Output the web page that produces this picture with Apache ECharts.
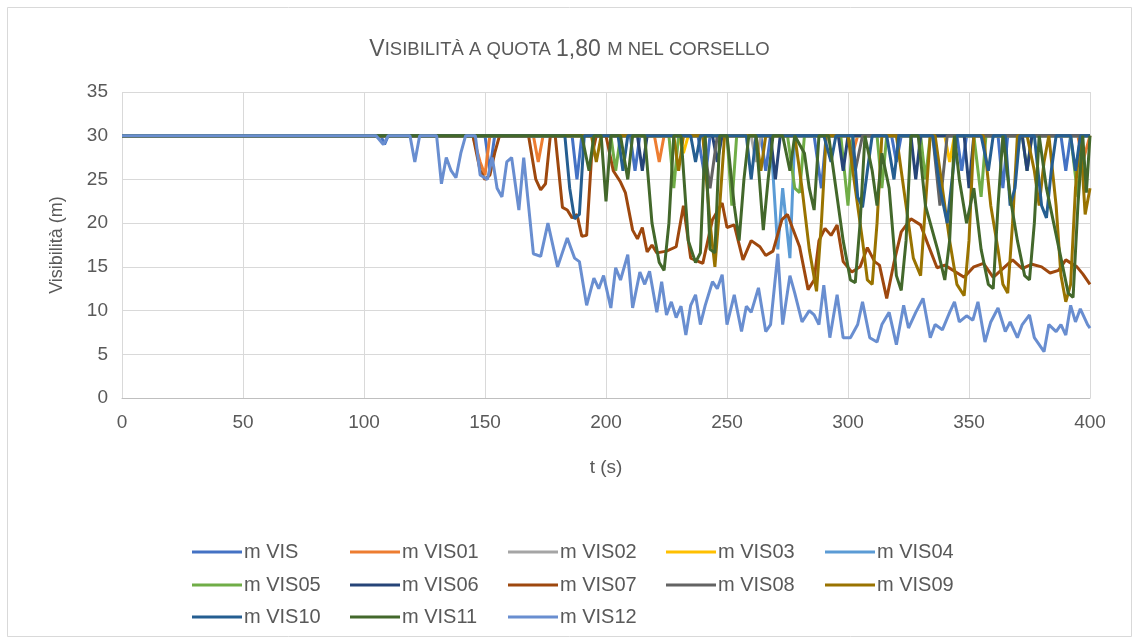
<!DOCTYPE html>
<html><head><meta charset="utf-8">
<script src="https://cdn.jsdelivr.net/npm/echarts@6/dist/echarts.min.js"></script>
<style>html,body{margin:0;padding:0;background:#fff}#c{width:1139px;height:644px}</style>
</head><body><div id="c"></div>
<script>
const seriesNames = ['m VIS','m VIS01','m VIS02','m VIS03','m VIS04','m VIS05','m VIS06','m VIS07','m VIS08','m VIS09','m VIS10','m VIS11','m VIS12'];
const xTicks = [0,50,100,150,200,250,300,350,400];
const yTicks = [0,5,10,15,20,25,30,35];

const visData = [[0,30],[107,30],[108.5,29],[110,30],[150,30],[152,26],[154,30],[186,30],[188,25],[190,30],[210,30],[212,26],[214,30],[238,30],[241,25],[243,30],[264,30],[266,26],[268,30],[286,30],[289,24],[291,30],[318,30],[320,27],[322,30],[345,30],[347,26],[349,30],[362,30],[364,24],[366,30],[388,30],[390,26],[392,30],[400,30]];
const vis01 = [[0,30],[145,30],[148,27],[150,25.5],[152,30],[170,30],[172,27],[174,30],[220,30],[222,27],[224,30],[300,30],[302,28],[304,30],[395,30],[397,27],[400,30]];
const vis02 = [[0,30],[260,30],[262,27],[264,30],[400,30]];
const vis03 = [[0,30],[230,30],[232,28],[234,30],[340,30],[342,27],[344,30],[400,30]];
const vis04 = [[0,30],[268,30],[271,17],[273,24],[276,16],[278,30],[400,30]];
const vis05 = [[0,30],[202,30],[204,26],[206,30],[226,30],[228,24],[230,30],[250,30],[252,22],[254,30],[275,30],[278,24],[280,23.5],[282,30],[297,30],[300,22],[302,30],[312,30],[314,24],[316,30],[330,30],[332,25],[334,30],[352,30],[355,23],[357,30],[372,30],[374,26],[376,30],[392,30],[395,23],[397,30],[400,30]];
const vis06 = [[0,30],[213,30],[215,26],[217,30],[244,30],[246,27],[248,30],[268,30],[270,25],[272,30],[296,30],[298,26],[300,30],[326,30],[328,25],[330,30],[348,30],[350,24],[352,30],[372,30],[374,26],[376,30],[400,30]];
const vis07 = [[0,30],[145,30],[148,26],[150,25],[152,25.5],[154,28],[156,30],[168,30],[171,25],[173,23.8],[175,24.5],[177,30],[179,30],[182,21.8],[184,21.5],[186,20.6],[188,21],[190,18.5],[192,18.6],[194,27.5],[196,30],[200,30],[203,26],[206,24.7],[208,23.5],[211,19.2],[213,18.2],[215,19.5],[217,16.7],[219,17.5],[221,16.6],[225,16.8],[229,17.3],[232,22],[235,16],[240,15.4],[244,20.4],[248,22.3],[250,19.5],[253,19.8],[256.6,15.8],[260,18],[263.6,17.3],[266,16.3],[269,16.8],[272.7,20.4],[275,21],[277,19.5],[280,17.3],[283.5,12.4],[286,13.5],[288,18],[290.5,19.4],[293,18.6],[295.5,19.8],[298,15.6],[301.6,14.4],[305,15],[308,17.2],[311,15.6],[313,15.2],[316,11.4],[319,15.5],[322,19],[326,20.5],[330,19.8],[333,17.6],[336.8,14.9],[340,15.2],[344,14.5],[348,13.8],[352,15],[356,15.4],[360,13.8],[364,14.8],[368,15.8],[372,14.8],[376,15.3],[380,15],[383.5,14.3],[387,14.6],[390,15.8],[394.6,15],[397,14.2],[400,13]];
const vis08 = [[0,30],[240,30],[243,24],[246,30],[300,30],[303,26],[306,30],[335,30],[338,22],[341,30],[400,30]];
const vis09 = [[0,30],[194,30],[196,27],[198,30],[228,30],[230,26],[232,30],[240,30],[243,20],[245,15],[247,22],[249,30],[262,30],[264,26],[266,30],[278,30],[281,24],[284,17],[287,12.2],[289,20],[291,30],[300,30],[303,24],[306,18],[308,13.5],[310,13],[312,20],[314,30],[320,30],[324,22],[327,16],[330,14],[332,22],[334,30],[336,30],[339,24],[342,18],[345,13],[348,11.7],[350,18],[352,30],[356,30],[359,22],[362,17],[364,13],[366,12],[368,20],[370,30],[374,30],[377,26],[379,22],[381,27],[383,30],[386,22],[388,14],[390,11],[392,13],[394,24],[396,30],[398,21],[400,24]];
const vis10 = [[0,30],[183,30],[185,24],[187,20.5],[189,21],[191,30],[205,30],[207,26],[209,30],[235,30],[237,27],[239,30],[258,30],[260,25],[262,30],[290,30],[293,27],[295,30],[302,30],[304,23],[306,21.8],[308,26],[310,30],[316,30],[319,25],[321,30],[335,30],[338,24],[341,20],[343,25],[345,30],[355,30],[358,26],[360,30],[365,30],[367,22],[369,24],[371,30],[377,30],[380,22],[382,20.6],[384,26],[386,30],[392,30],[394,26],[396,30],[400,30]];
const vis11 = [[0,30],[190,30],[193,26],[195,30],[198,30],[200,22.5],[202,30],[206,30],[209,25],[211,30],[216,30],[219,20],[222,15.5],[224,14.6],[226,20],[228,30],[231,30],[234,18],[237,15.5],[239,16.6],[241,30],[243,17],[245,16.6],[247,30],[250,30],[253,22],[255,18],[257,25],[259,30],[262,30],[265,19.2],[267,25],[269,30],[273,30],[276,26],[278,30],[282,28],[284,24],[286,21.5],[288,30],[292,30],[295,24],[298,18],[301,13.5],[303,13.2],[305,20],[307,30],[310,26],[312,22],[314,28],[317,24],[320,14],[322,12.3],[324,18],[326,30],[329,30],[332,22],[334,20],[337,17],[340,13.5],[342,18],[344,30],[346,25],[349,20],[352,24],[355,17],[358,13],[360,12.5],[362,22],[364,30],[367,23],[370,18],[373,14],[375,13.5],[377,20],[379,30],[382,24],[385,20],[388,16],[391,12],[393,11.5],[395,22],[397,30],[398.5,23.5],[400,30]];
const vis12 = [[0,30],[105,30],[108,29],[110,30],[119,30],[121,27],[123,30],[130,30],[132,24.5],[134,27.5],[136,26],[138,25.2],[140,28],[142,30],[146,30],[148,25.5],[151,25],[153,27.5],[155,24],[157,23],[159,27],[161,27.5],[164,21.5],[166,27.5],[168,22],[170,16.5],[173,16.2],[176,20],[180,15],[184,18.3],[187,16],[189,15.6],[192,10.6],[195,13.7],[197,12.5],[199,14],[202,10.3],[204,14.9],[206,13.5],[209,16.4],[211,10.3],[214,14.4],[216,13],[218,14.5],[221,9.8],[223,13.3],[225,9.5],[227,11],[229,9.2],[231,10.5],[233,7.2],[235,10.6],[237,11.8],[239,8.4],[241,10.6],[244,13.3],[246,12.5],[248,14.1],[250,8.4],[253,11.8],[256,7.6],[258,10.5],[260,9.8],[263,12.6],[266,7.6],[268,8.4],[271,16.5],[273,8.4],[276,14],[278,12],[281,8.7],[284,10],[286,9.5],[288,8.4],[290,12.9],[292.5,6.9],[295.5,11.8],[298,6.9],[301,6.9],[304,8.4],[306,11],[309,6.9],[312,6.4],[314,8.4],[317,9.8],[320,6.1],[323,10.6],[325,8],[328,9.8],[331,11.4],[334,6.9],[336,8.4],[339,7.8],[342,9.8],[344,11],[346,8.7],[349,9.4],[351.6,8.9],[353.7,11],[356.6,6.4],[359,8.7],[362,10.3],[365,7.6],[367,8.7],[370,6.9],[372,8.4],[375,9.5],[377,6.9],[381,5.3],[383,8.4],[386,7.6],[388,8.4],[390,7.2],[392,10.6],[394,8.7],[396,10.2],[399,8.4],[400,8]];

const allData = [visData,vis01,vis02,vis03,vis04,vis05,vis06,vis07,vis08,vis09,vis10,vis11,vis12];
const colors = ['#4472C4','#ED7D31','#A5A5A5','#FFC000','#5B9BD5','#70AD47','#264478','#9E480E','#636363','#997300','#255E91','#43682B','#698ED0'];

const font = 'Liberation Sans, Arial, sans-serif';
const txt = '#595959';
const legendCols = [187,345,503,661,820];
const legendRows = [548,581,613];

const legends = seriesNames.map((n,i)=>({
  data:[n], left: legendCols[i%5], top: legendRows[Math.floor(i/5)]-11,
  icon:'rect', itemWidth:50, itemHeight:3, itemGap:0,
  textStyle:{fontFamily:font,fontSize:20,color:txt,padding:[0,0,0,-3]}, selectedMode:false
}));

const chart = echarts.init(document.getElementById('c'));
chart.setOption({
  backgroundColor:'#ffffff',
  animation:false,
  color: colors,
  graphic:[{type:'rect',shape:{x:7.5,y:7.5,width:1124,height:629},style:{fill:'none',stroke:'#d9d9d9',lineWidth:1},silent:true}],
  title:{
    text:'{b|V}{s|ISIBILITÀ A QUOTA }{n|1,80 }{s|M NEL CORSELLO}',
    left:'center', top:33,
    textStyle:{fontWeight:'normal',rich:{
      b:{fontFamily:font,fontSize:23,color:txt,fontWeight:'normal'},
      n:{fontFamily:font,fontSize:23,color:txt,fontWeight:'normal'},
      s:{fontFamily:font,fontSize:18.5,color:txt,fontWeight:'normal'}
    }}
  },
  legend: legends,
  grid:{left:122,right:49,top:92,bottom:246,containLabel:false},
  xAxis:{
    type:'value', min:0, max:400, interval:50,
    name:'t (s)', nameLocation:'middle', nameGap:60,
    nameTextStyle:{fontFamily:font,fontSize:19,color:txt},
    axisLine:{show:true,lineStyle:{color:'#bfbfbf',width:1}},
    axisTick:{show:false},
    axisLabel:{fontFamily:font,fontSize:19,color:txt,margin:15},
    splitLine:{show:true,lineStyle:{color:'#d9d9d9',width:1}}
  },
  yAxis:{
    type:'value', min:0, max:35, interval:5,
    name:'Visibilità (m)', nameLocation:'middle', nameGap:56,
    nameTextStyle:{fontFamily:font,fontSize:18,color:txt},
    axisLine:{show:false}, axisTick:{show:false},
    axisLabel:{fontFamily:font,fontSize:19,color:txt,margin:14},
    splitLine:{show:true,lineStyle:{color:'#d9d9d9',width:1}}
  },
  series: allData.map((d,i)=>({
    name: seriesNames[i], type:'line', data:d, showSymbol:false, symbol:'none',
    lineStyle:{width:3,color:colors[i]}, itemStyle:{color:colors[i]}
  }))
});
</script></body></html>
